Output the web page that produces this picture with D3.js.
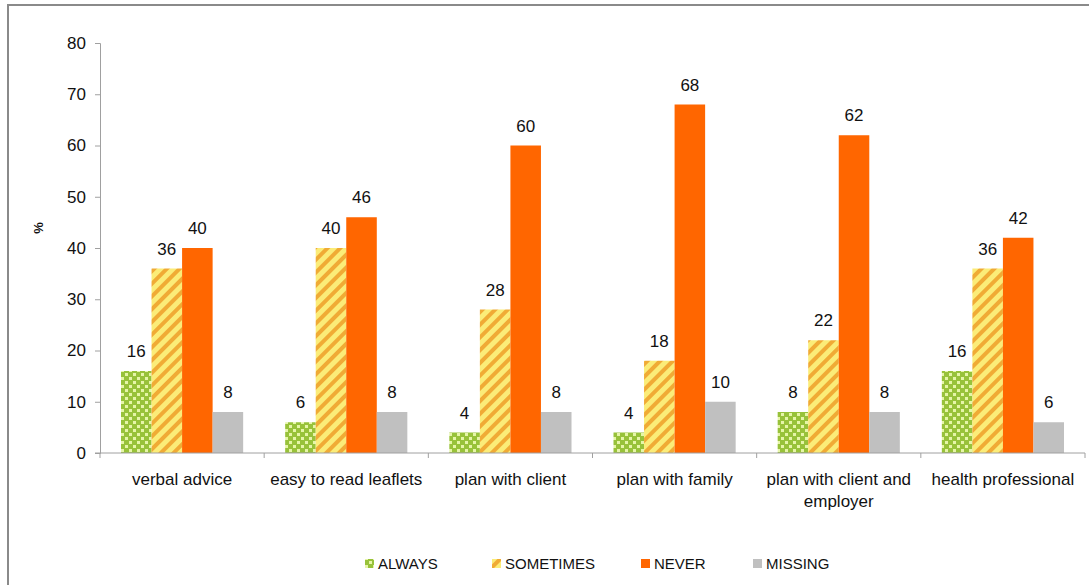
<!DOCTYPE html>
<html><head><meta charset="utf-8">
<script src="https://cdn.jsdelivr.net/npm/d3@7"></script>
<style>body{margin:0;background:#fff}svg{display:block}</style>
</head><body>
<svg id="c" width="1089" height="585"></svg>
<script>
const categories = [["verbal advice"],["easy to read leaflets"],["plan with client"],["plan with family"],["plan with client and","employer"],["health professional"]];
const seriesNames = ["ALWAYS","SOMETIMES","NEVER","MISSING"];
const always    = [16, 6, 4, 4, 8, 16];
const sometimes = [36, 40, 28, 18, 22, 36];
const never     = [40, 46, 60, 68, 62, 42];
const missing   = [8, 8, 8, 10, 8, 6];
const yTicks = [0,10,20,30,40,50,60,70,80];

(function(){
const series = [always, sometimes, never, missing];
const svg = d3.select("#c");
const font = "Liberation Sans, Arial, sans-serif";

// patterns
const defs = svg.append("defs");
const pDots = defs.append("pattern").attr("id","dots").attr("patternUnits","userSpaceOnUse").attr("width",8).attr("height",8);
pDots.append("rect").attr("width",8).attr("height",8).attr("fill","#98c23a");
pDots.append("rect").attr("x",1).attr("y",1).attr("width",3).attr("height",3).attr("fill","#e6f5a8");
pDots.append("rect").attr("x",5).attr("y",5).attr("width",3).attr("height",3).attr("fill","#e6f5a8");
const pStr = defs.append("pattern").attr("id","stripes").attr("patternUnits","userSpaceOnUse").attr("width",9).attr("height",9).attr("patternTransform","rotate(45)");
pStr.append("rect").attr("width",9).attr("height",9).attr("fill","#fbec78");
pStr.append("rect").attr("x",0).attr("width",4).attr("height",9).attr("fill","#f0ab35");
const fills = ["url(#dots)","url(#stripes)","#ff6600","#c0c0c0"];

// border
svg.append("path").attr("d","M8,600 V5 H1100").attr("fill","none").attr("stroke","#8a8a8a").attr("stroke-width",2);

const mLeft = 100, mRight = 1085, mTop = 43, mBottom = 453;
const x = d3.scaleBand().domain(d3.range(categories.length)).range([mLeft,mRight]);
const xi = d3.scaleBand().domain(d3.range(series.length)).range([21, x.bandwidth()-21]);
const y = d3.scaleLinear().domain([0,80]).range([mBottom,mTop]);

// y axis
const ya = svg.append("g").attr("transform",`translate(${mLeft},0)`)
  .call(d3.axisLeft(y).tickValues(yTicks).tickSize(5).tickPadding(9));
ya.select(".domain").attr("stroke","#a0a0a0");
ya.selectAll(".tick line").attr("stroke","#a0a0a0");
ya.selectAll("text").attr("font-family",font).attr("font-size",17).attr("fill","#111");

// bars
series.forEach((vals,si)=>{
  const g = svg.append("g");
  g.selectAll("rect").data(vals).join("rect")
    .attr("x",(d,i)=>x(i)+xi(si)).attr("width",xi.bandwidth())
    .attr("y",d=>y(d)).attr("height",d=>y(0)-y(d)).attr("fill",fills[si]);
  g.selectAll("text").data(vals).join("text")
    .attr("x",(d,i)=>x(i)+xi(si)+xi.bandwidth()/2).attr("y",d=>y(d)-14)
    .attr("text-anchor","middle").attr("font-family",font).attr("font-size",17).attr("fill","#111")
    .text(d=>d);
});

// x axis
const xa = svg.append("g");
xa.append("line").attr("x1",mLeft-5).attr("x2",mRight).attr("y1",mBottom).attr("y2",mBottom).attr("stroke","#a0a0a0");
const bounds = d3.range(categories.length+1).map(i=> i<categories.length ? x(i) : mRight);
xa.selectAll("line.t").data(bounds).join("line").attr("class","t")
  .attr("x1",d=>d).attr("x2",d=>d).attr("y1",mBottom).attr("y2",mBottom+5).attr("stroke","#a0a0a0");
const cl = xa.selectAll("text").data(categories).join("text")
  .attr("x",(d,i)=>x(i)+x.bandwidth()/2).attr("y",mBottom+32)
  .attr("text-anchor","middle").attr("font-family",font).attr("font-size",17).attr("fill","#111");
cl.each(function(d){
  const t = d3.select(this);
  d.forEach((line,k)=>t.append("tspan").attr("x",t.attr("x")).attr("dy",k?22:0).text(line));
});

// y title
svg.append("text").attr("transform","translate(43,228) rotate(-90)").attr("text-anchor","middle")
  .attr("font-family",font).attr("font-size",13).attr("font-weight","bold").attr("fill","#111").text("%");

// legend
const legX = [365, 492, 641, 753];
const lg = svg.append("g");
seriesNames.forEach((n,i)=>{
  lg.append("rect").attr("x",legX[i]).attr("y",559).attr("width",9).attr("height",9).attr("fill",fills[i]);
  lg.append("text").attr("x",legX[i]+13).attr("y",569).attr("font-family",font).attr("font-size",15).attr("fill","#111").text(n);
});
})();
</script>
</body></html>
